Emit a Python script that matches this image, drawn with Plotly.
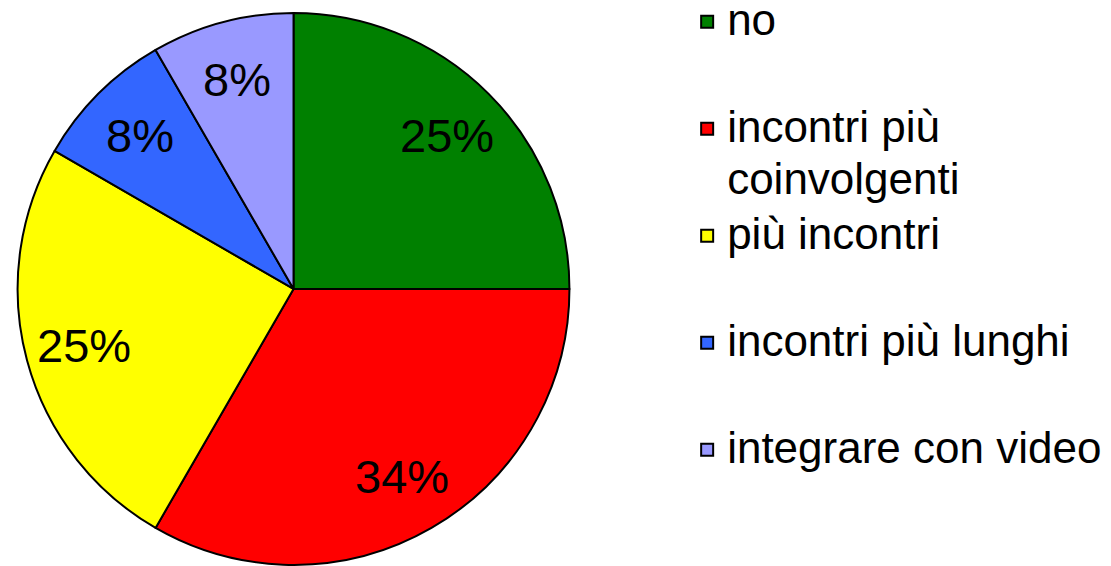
import math
import plotly.graph_objects as go

categories = ["no", "incontri più<br>coinvolgenti", "più incontri", "incontri più lunghi", "integrare con video"]
counts = [3, 4, 3, 1, 1]
pct_labels = ["25%", "34%", "25%", "8%", "8%"]
colors = ["#008000", "#FF0000", "#FFFF00", "#3366FF", "#9999FF"]

W, H = 1111, 566
dom_x = [0.0, 0.5284]
dom_y = [0.002, 0.977]
label_radius = 0.785  # fraction of pie radius where percentage labels sit

# Legend: tiny base line height (font 8 -> 10.4px lines) with large glyphs in spans,
# padded with blank lines so every entry has the same height (Excel-like spacing).
BLANK = "\u00a0"
LINES_PER_ITEM = 10
TEXT_START_LINE = 1      # index of the first text line (0-based)
WRAP_LINE_STEP = 5       # blank lines between wrapped text lines -> ~52px
legend_labels = []
for c in categories:
    parts = c.split("<br>")
    lines = [BLANK] * LINES_PER_ITEM
    for i, p in enumerate(parts):
        lines[TEXT_START_LINE + i * WRAP_LINE_STEP] = "<span style='font-size:44px'>" + p + "</span>"
    legend_labels.append("<br>".join(lines))

fig = go.Figure(go.Pie(
    labels=legend_labels,
    values=counts,
    textinfo="none",
    sort=False,
    direction="clockwise",
    rotation=0,
    marker=dict(colors=colors, line=dict(color="black", width=2)),
    hoverinfo="skip",
    domain=dict(x=dom_x, y=dom_y),
))

# percentage labels placed on each slice's mid-angle (computed from the values)
cx = (dom_x[0] + dom_x[1]) / 2
cy = (dom_y[0] + dom_y[1]) / 2
r_px = min((dom_x[1] - dom_x[0]) * W, (dom_y[1] - dom_y[0]) * H) / 2
total = sum(counts)
cum = 0
for v, t in zip(counts, pct_labels):
    mid = (cum + v / 2) / total * 2 * math.pi
    cum += v
    dx = label_radius * r_px * math.sin(mid)
    dy = label_radius * r_px * math.cos(mid)
    fig.add_annotation(
        x=cx + dx / W, y=cy + dy / H, xref="paper", yref="paper",
        text=t, showarrow=False, xanchor="center", yanchor="middle",
        font=dict(family="Liberation Sans, Arial, sans-serif", size=47, color="black"),
    )

fig.update_layout(
    width=W, height=H,
    margin=dict(l=0, r=0, t=0, b=0),
    paper_bgcolor="white",
    plot_bgcolor="white",
    showlegend=True,
    legend=dict(
        x=0.6185, y=0.9823, xanchor="left", yanchor="top",
        font=dict(family="Liberation Sans, Arial, sans-serif", size=8, color="black"),
        valign="top",
        bgcolor="rgba(0,0,0,0)",
        traceorder="normal",
    ),
)

fig.write_html("out.html", config={"displayModeBar": False},
               post_script="document.body.style.margin='0';")
